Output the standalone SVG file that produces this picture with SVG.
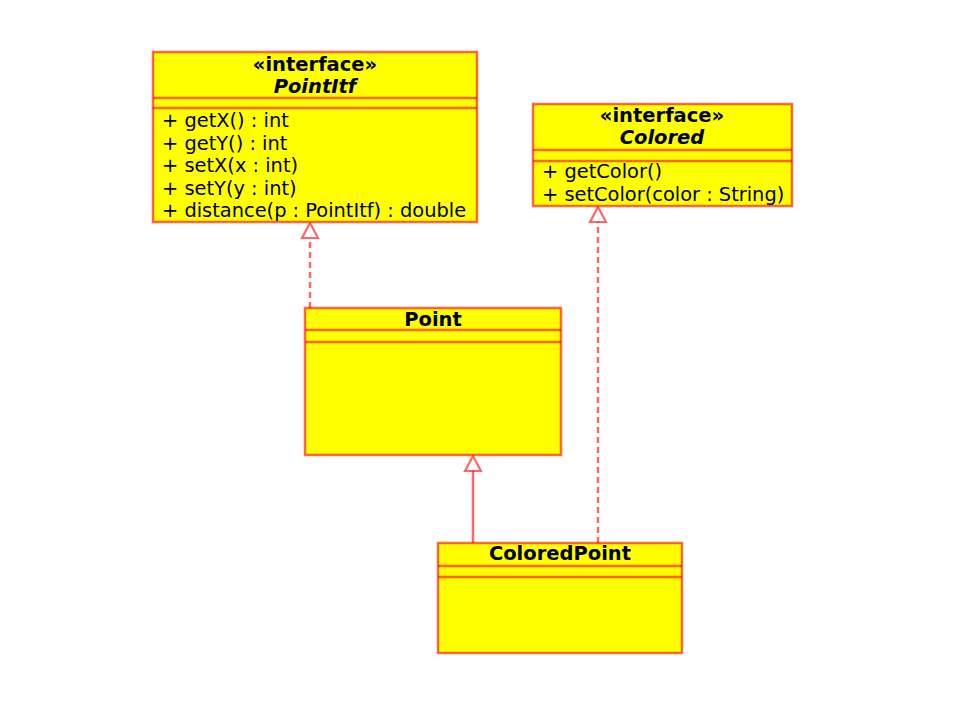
<svg xmlns="http://www.w3.org/2000/svg" width="960" height="720" viewBox="0 0 960 720">
<style>
.box{fill:#ffff00;stroke:#ff0000;stroke-opacity:0.6;stroke-width:2.5}
.sep{stroke:#ff0000;stroke-opacity:0.6;stroke-width:2.5}
.t{font-family:"DejaVu Sans",sans-serif;font-size:19.5px;fill:#000}
.b{font-weight:bold;text-anchor:middle}
.i{font-style:italic}
.m{font-size:19.4px}
.edge{fill:none;stroke:#ff0000;stroke-opacity:0.6;stroke-width:2.5}
.dash{stroke-dasharray:6,4}
.head{fill:#fff;stroke:#ff0000;stroke-opacity:0.6;stroke-width:2.2}
</style>
<rect width="960" height="720" fill="#fff"/>
<g id="connectors">
<line class="edge dash" x1="310" y1="308" x2="310" y2="238"/>
<polygon class="head" points="310,223 302,238 318,238"/>
<line class="edge dash" x1="598" y1="543" x2="598" y2="222"/>
<polygon class="head" points="598,207 590,222 606,222"/>
<line class="edge" x1="473" y1="543" x2="473" y2="471"/>
<polygon class="head" points="473,456 465,471 481,471"/>
</g>
<g id="PointItf">
<rect class="box" x="153" y="52" width="324" height="170"/>
<line class="sep" x1="153" y1="98" x2="477" y2="98"/>
<line class="sep" x1="153" y1="108" x2="477" y2="108"/>
<text class="t b" x="315" y="71">«interface»</text>
<text class="t b i" x="315" y="93">PointItf</text>
<text class="t m" x="162" y="127">+ getX() : int</text>
<text class="t m" x="162" y="150">+ getY() : int</text>
<text class="t m" x="162" y="172">+ setX(x : int)</text>
<text class="t m" x="162" y="195">+ setY(y : int)</text>
<text class="t m" x="162" y="217">+ distance(p : PointItf) : double</text>
</g>
<g id="Colored">
<rect class="box" x="533" y="104" width="259" height="102"/>
<line class="sep" x1="533" y1="150" x2="792" y2="150"/>
<line class="sep" x1="533" y1="161" x2="792" y2="161"/>
<text class="t b" x="662" y="122">«interface»</text>
<text class="t b i" x="662" y="144">Colored</text>
<text class="t m" x="542" y="178">+ getColor()</text>
<text class="t m" x="542" y="201">+ setColor(color : String)</text>
</g>
<g id="Point">
<rect class="box" x="305" y="308" width="256" height="147"/>
<line class="sep" x1="305" y1="330" x2="561" y2="330"/>
<line class="sep" x1="305" y1="342" x2="561" y2="342"/>
<text class="t b" x="433" y="326">Point</text>
</g>
<g id="ColoredPoint">
<rect class="box" x="438" y="543" width="244" height="110"/>
<line class="sep" x1="438" y1="566" x2="682" y2="566"/>
<line class="sep" x1="438" y1="577" x2="682" y2="577"/>
<text class="t b" x="560" y="560">ColoredPoint</text>
</g>
</svg>
